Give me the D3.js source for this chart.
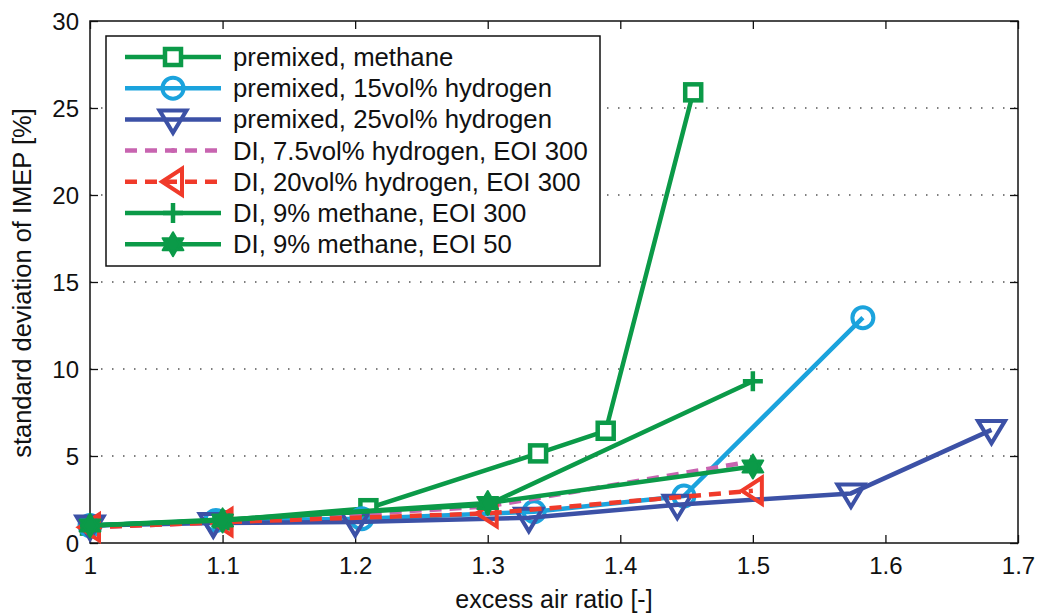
<!DOCTYPE html>
<html>
<head>
<meta charset="utf-8">
<script src="https://cdn.jsdelivr.net/npm/d3@7"></script>
<style>
  body { margin: 0; background: #fff; }
  text { font-family: "Liberation Sans", Arial, sans-serif; fill: #111; }
</style>
</head>
<body>
<script>
// excess air ratio (lambda) and std. deviation of IMEP [%] per series
var lambdaPremixedCH4 = [1.0, 1.1, 1.21, 1.338, 1.389, 1.455];
var sdPremixedCH4     = [1.0, 1.3, 2.0, 5.15, 6.45, 25.9];
var lambdaPremixedH15 = [1.0, 1.095, 1.205, 1.335, 1.448, 1.583];
var sdPremixedH15     = [1.0, 1.3, 1.4, 1.8, 2.7, 12.95];
var lambdaPremixedH25 = [1.0, 1.093, 1.2, 1.331, 1.443, 1.574, 1.68];
var sdPremixedH25     = [1.0, 1.15, 1.2, 1.45, 2.2, 2.85, 6.5];
var lambdaDIH75 = [1.0, 1.1, 1.3, 1.5];
var sdDIH75     = [0.9, 1.2, 2.1, 4.7];
var lambdaDIH20 = [1.0, 1.1, 1.3, 1.5];
var sdDIH20     = [0.9, 1.2, 1.7, 3.0];
var lambdaDICH4eoi300 = [1.0, 1.1, 1.3, 1.5];
var sdDICH4eoi300     = [1.0, 1.35, 2.2, 9.3];
var lambdaDICH4eoi50 = [1.0, 1.1, 1.3, 1.5];
var sdDICH4eoi50     = [1.0, 1.3, 2.3, 4.4];

var xTicks = [1, 1.1, 1.2, 1.3, 1.4, 1.5, 1.6, 1.7];
var yTicks = [0, 5, 10, 15, 20, 25, 30];

var names = ["premixed, methane", "premixed, 15vol% hydrogen", "premixed, 25vol% hydrogen",
             "DI, 7.5vol% hydrogen, EOI 300", "DI, 20vol% hydrogen, EOI 300",
             "DI, 9% methane, EOI 300", "DI, 9% methane, EOI 50"];

var green = "#0b9a48", cyan = "#1ba3dd", navy = "#3c51a6", pink = "#c864b0", red = "#f03a2a";

var series = [
  {x: lambdaPremixedCH4, y: sdPremixedCH4, color: green, marker: "square", dash: null},
  {x: lambdaPremixedH15, y: sdPremixedH15, color: cyan, marker: "circle", dash: null},
  {x: lambdaPremixedH25, y: sdPremixedH25, color: navy, marker: "tridown", dash: null},
  {x: lambdaDIH75, y: sdDIH75, color: pink, marker: "dot", dash: "12,8"},
  {x: lambdaDIH20, y: sdDIH20, color: red, marker: "trileft", dash: "12,8"},
  {x: lambdaDICH4eoi300, y: sdDICH4eoi300, color: green, marker: "plus", dash: null},
  {x: lambdaDICH4eoi50, y: sdDICH4eoi50, color: green, marker: "hexagram", dash: null}
];

var width = 1049, height = 615;
var mLeft = 90, mRight = 1018, mTop = 21, mBottom = 543;

var svg = d3.select("body").append("svg")
  .attr("width", width).attr("height", height);

var x = d3.scaleLinear().domain([1, 1.7]).range([mLeft, mRight]);
var y = d3.scaleLinear().domain([0, 30]).range([mBottom, mTop]);

// dotted horizontal grid
svg.append("g").selectAll("line")
  .data(yTicks.filter(function(d) { return d > 0 && d < 30; }))
  .enter().append("line")
  .attr("x1", mLeft).attr("x2", mRight)
  .attr("y1", function(d) { return y(d); })
  .attr("y2", function(d) { return y(d); })
  .attr("stroke", "#555").attr("stroke-width", 1.3)
  .attr("stroke-dasharray", "1.5,9.5");

// axes, MATLAB style ticks pointing inward
var tickIn = 8;
var axB = svg.append("g").attr("transform", "translate(0," + mBottom + ")")
  .call(d3.axisBottom(x).tickValues(xTicks).tickSize(-tickIn).tickPadding(14)
        .tickFormat(function(d) { return d3.format("")(d); }));
var axT = svg.append("g").attr("transform", "translate(0," + mTop + ")")
  .call(d3.axisTop(x).tickValues(xTicks).tickSize(-tickIn).tickFormat(""));
var axL = svg.append("g").attr("transform", "translate(" + mLeft + ",0)")
  .call(d3.axisLeft(y).tickValues(yTicks).tickSize(-tickIn).tickPadding(11));
var axR = svg.append("g").attr("transform", "translate(" + mRight + ",0)")
  .call(d3.axisRight(y).tickValues(yTicks).tickSize(-tickIn).tickFormat(""));
[axB, axT, axL, axR].forEach(function(a) {
  a.select(".domain").remove();
  a.selectAll("line").attr("stroke", "#111").attr("stroke-width", 1.3);
  a.selectAll("text").style("font-size", "24px").attr("fill", "#111")
    .style("font-family", "'Liberation Sans', Arial, sans-serif");
});
axB.selectAll("text").attr("dy", "0.71em");
axL.selectAll("text").attr("dy", "0.36em");

svg.append("rect")
  .attr("x", mLeft).attr("y", mTop)
  .attr("width", mRight - mLeft).attr("height", mBottom - mTop)
  .attr("fill", "none").attr("stroke", "#111").attr("stroke-width", 1.5);

// axis labels
svg.append("text")
  .attr("x", (mLeft + mRight) / 2).attr("y", 608)
  .attr("text-anchor", "middle").style("font-size", "25px")
  .text("excess air ratio [-]");
svg.append("text")
  .attr("transform", "translate(31," + ((mTop + mBottom) / 2 + 1) + ") rotate(-90)")
  .attr("text-anchor", "middle").style("font-size", "25.5px")
  .text("standard deviation of IMEP [%]");

function hexagramPath(r) {
  var p1 = [], p2 = [];
  for (var k = 0; k < 3; k++) {
    var a1 = -Math.PI / 2 + k * 2 * Math.PI / 3;
    var a2 = Math.PI / 2 + k * 2 * Math.PI / 3;
    p1.push([r * Math.cos(a1), r * Math.sin(a1)]);
    p2.push([r * Math.cos(a2), r * Math.sin(a2)]);
  }
  return "M" + p1.join("L") + "Z M" + p2.join("L") + "Z";
}

function drawMarker(g, type, color, cx, cy) {
  if (type === "square") {
    g.append("rect").attr("x", cx - 8).attr("y", cy - 8)
      .attr("width", 16).attr("height", 16)
      .attr("fill", "#fff").attr("stroke", color).attr("stroke-width", 4.5);
  } else if (type === "circle") {
    g.append("circle").attr("cx", cx).attr("cy", cy).attr("r", 10.5)
      .attr("fill", "none").attr("stroke", color).attr("stroke-width", 4);
  } else if (type === "tridown") {
    g.append("path")
      .attr("d", "M" + (cx - 13.5) + "," + (cy - 9) + "L" + (cx + 13.5) + "," + (cy - 9) +
                 "L" + cx + "," + (cy + 13.5) + "Z")
      .attr("fill", "none").attr("stroke", color).attr("stroke-width", 4)
      .attr("stroke-linejoin", "miter");
  } else if (type === "trileft") {
    g.append("path")
      .attr("d", "M" + (cx - 11) + "," + cy + "L" + (cx + 9) + "," + (cy - 13) +
                 "L" + (cx + 9) + "," + (cy + 13) + "Z")
      .attr("fill", "none").attr("stroke", color).attr("stroke-width", 4);
  } else if (type === "plus") {
    g.append("path")
      .attr("d", "M" + (cx - 10) + "," + cy + "H" + (cx + 10) +
                 "M" + cx + "," + (cy - 10) + "V" + (cy + 10))
      .attr("stroke", color).attr("stroke-width", 4.5).attr("fill", "none");
  } else if (type === "hexagram") {
    g.append("path").attr("d", hexagramPath(12))
      .attr("transform", "translate(" + cx + "," + cy + ")")
      .attr("fill", color).attr("stroke", color).attr("stroke-width", 2)
      .attr("stroke-linejoin", "round");
  } else if (type === "dot") {
    g.append("circle").attr("cx", cx).attr("cy", cy).attr("r", 2.5).attr("fill", color);
  }
}

var line = d3.line()
  .x(function(d) { return x(d[0]); })
  .y(function(d) { return y(d[1]); });

series.forEach(function(s) {
  var pts = d3.zip(s.x, s.y);
  var g = svg.append("g");
  g.append("path").datum(pts)
    .attr("d", line)
    .attr("fill", "none").attr("stroke", s.color).attr("stroke-width", 4.5)
    .attr("stroke-dasharray", s.dash)
    .attr("stroke-linejoin", "round");
  pts.forEach(function(p) {
    drawMarker(g, s.marker, s.color, x(p[0]), y(p[1]));
  });
});

// legend
var lg = svg.append("g");
lg.append("rect").attr("x", 106).attr("y", 36).attr("width", 494).attr("height", 230)
  .attr("fill", "#fff").attr("stroke", "#111").attr("stroke-width", 1.5);
series.forEach(function(s, i) {
  var cy = 57 + i * 31.2;
  lg.append("line").attr("x1", 125).attr("x2", 221).attr("y1", cy).attr("y2", cy)
    .attr("stroke", s.color).attr("stroke-width", 4.5)
    .attr("stroke-dasharray", s.dash);
  drawMarker(lg, s.marker, s.color, 173, cy);
  lg.append("text")
    .attr("transform", "translate(233," + (cy + 9) + ") scale(1.03,1)")
    .style("font-size", "25px").text(names[i]);
});
</script>
</body>
</html>
